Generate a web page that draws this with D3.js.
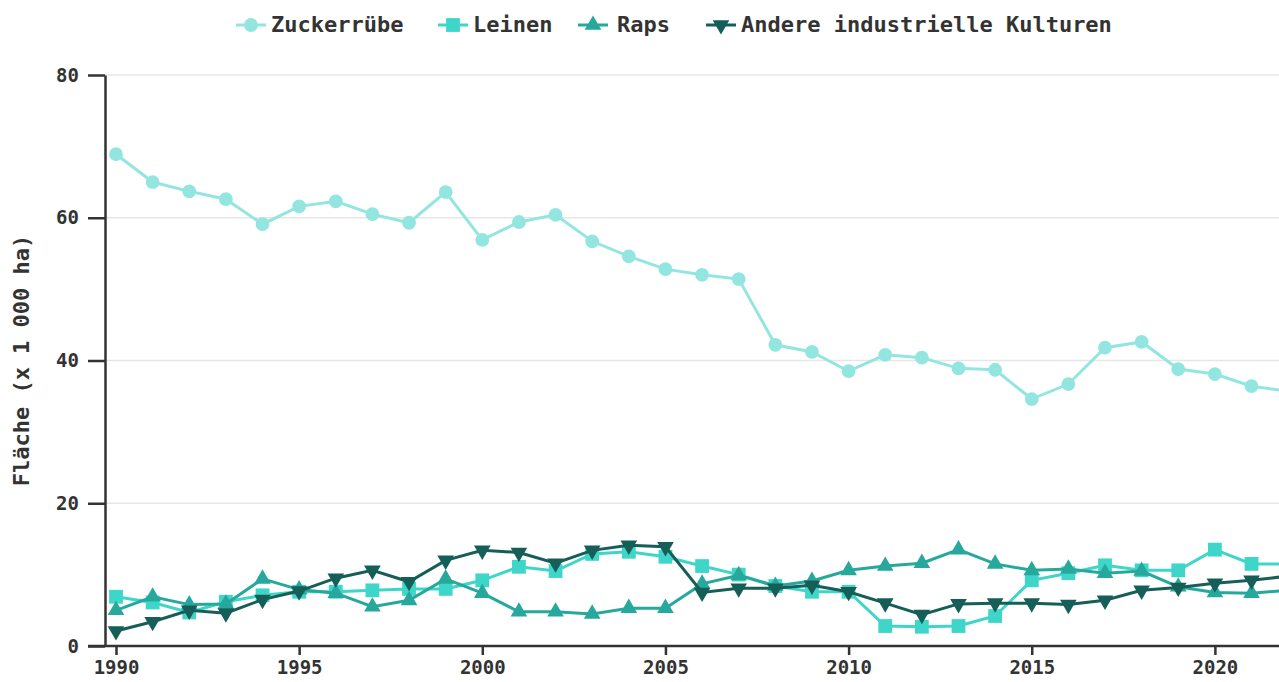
<!DOCTYPE html>
<html>
<head>
<meta charset="utf-8">
<script src="https://cdn.jsdelivr.net/npm/d3@7"></script>
<style>
  body { margin: 0; background: #fff; }
  svg { display: block; font-family: "DejaVu Sans Mono", monospace; }
  .tick text { font-family: "DejaVu Sans Mono", monospace; font-size: 19px; font-weight: bold; fill: #333; }
  .legend-label { font-size: 22px; font-weight: bold; fill: #333; }
  .axis-label { font-size: 22px; font-weight: bold; fill: #333; }
</style>
</head>
<body>
<div id="chart"></div>
<script>
const years = d3.range(1990, 2023);
const seriesNames = ["Zuckerrübe", "Leinen", "Raps", "Andere industrielle Kulturen"];
const zuckerruebe = [68.9, 65.0, 63.7, 62.6, 59.1, 61.6, 62.3, 60.5, 59.3, 63.6, 56.9, 59.4, 60.4, 56.7, 54.6, 52.8, 52.0, 51.4, 42.2, 41.2, 38.5, 40.8, 40.4, 38.9, 38.7, 34.6, 36.7, 41.8, 42.6, 38.8, 38.1, 36.4, 35.7];
const leinen = [6.9, 6.1, 4.7, 6.2, 7.1, 7.6, 7.6, 7.8, 8.0, 8.0, 9.2, 11.1, 10.5, 12.9, 13.2, 12.5, 11.2, 10.0, 8.4, 7.6, 7.6, 2.8, 2.7, 2.8, 4.2, 9.2, 10.2, 11.3, 10.6, 10.6, 13.5, 11.5, 11.5];
const raps = [5.0, 6.9, 5.8, 5.9, 9.4, 7.9, 7.4, 5.5, 6.4, 9.4, 7.4, 4.8, 4.8, 4.5, 5.3, 5.3, 8.7, 9.9, 8.4, 9.1, 10.6, 11.2, 11.6, 13.5, 11.5, 10.6, 10.8, 10.2, 10.5, 8.3, 7.5, 7.4, 7.8];
const andere = [2.1, 3.4, 5.0, 4.6, 6.5, 7.7, 9.5, 10.6, 9.0, 12.0, 13.4, 13.1, 11.6, 13.4, 14.1, 13.9, 7.5, 8.1, 8.1, 8.5, 7.6, 6.0, 4.4, 5.9, 6.0, 6.0, 5.8, 6.4, 7.8, 8.2, 8.8, 9.2, 9.8];
const yTicks = [0, 20, 40, 60, 80];
const xTicks = [1990, 1995, 2000, 2005, 2010, 2015, 2020];

const colors = ["#93e6e0", "#3dd6c8", "#26a99c", "#165e58"];
const symbols = [d3.symbolCircle, d3.symbolSquare, d3.symbolTriangle, d3.symbolTriangle];
const symbolSizes = [150, 190, 120, 120];
const rotations = [0, 0, 0, 180];

const width = 1279, height = 682;

const series = [zuckerruebe, leinen, raps, andere].map((vals, i) => ({
    name: seriesNames[i],
    values: vals.map((v, j) => ({ year: years[j], value: v })),
    color: colors[i],
    symbol: symbols[i],
    size: symbolSizes[i],
    rotate: rotations[i]
}));

const svg = d3.select("#chart")
    .append("svg")
    .attr("width", width)
    .attr("height", height);

const x = d3.scaleLinear()
    .domain([1990, 2022])
    .range([116, 116 + 32 * 36.63]);

const xRangeStart = 105;

const y = d3.scaleLinear()
    .domain([0, 80])
    .range([646, 75]);

// gridlines
svg.append("g")
    .selectAll("line")
    .data(yTicks.filter(d => d > 0))
    .join("line")
    .attr("x1", xRangeStart)
    .attr("x2", width)
    .attr("y1", d => y(d))
    .attr("y2", d => y(d))
    .attr("stroke", "#e6e6e6")
    .attr("stroke-width", 1.5);

// lines + markers
const line = d3.line()
    .x(d => x(d.year))
    .y(d => y(d.value));

series.forEach(s => {
    const g = svg.append("g");
    g.append("path")
        .datum(s.values)
        .attr("d", line)
        .attr("fill", "none")
        .attr("stroke", s.color)
        .attr("stroke-width", 3);
    g.selectAll("path.mark")
        .data(s.values)
        .join("path")
        .attr("class", "mark")
        .attr("d", d3.symbol().type(s.symbol).size(s.size))
        .attr("transform", d => `translate(${x(d.year)}, ${y(d.value)}) rotate(${s.rotate})`)
        .attr("fill", s.color);
});

// axes
const bottomAxis = d3.axisBottom(x)
    .tickValues(xTicks)
    .tickFormat(d3.format("d"))
    .tickSize(9)
    .tickSizeOuter(0)
    .tickPadding(6);
const xAxisG = svg.append("g")
    .attr("transform", `translate(0, ${y(0)})`)
    .call(bottomAxis);
xAxisG.select(".domain").attr("d", `M${xRangeStart - 17},0H${width + 20}`);

const leftAxis = d3.axisLeft(y)
    .tickValues(yTicks)
    .tickSize(17)
    .tickSizeOuter(0)
    .tickPadding(9);
svg.append("g")
    .attr("transform", `translate(${xRangeStart}, 0)`)
    .call(leftAxis);

svg.selectAll(".domain, .tick line")
    .attr("stroke", "#333")
    .attr("stroke-width", 2.5);

svg.append("text")
    .attr("class", "axis-label")
    .attr("text-anchor", "middle")
    .attr("transform", `translate(29, ${(y(0) + y(80)) / 2}) rotate(-90)`)
    .text("Fläche (x 1 000 ha)");

// legend
const legendX = [236, 438, 578, 706];
const legend = svg.append("g").attr("class", "legend");
series.forEach((s, i) => {
    const g = legend.append("g").attr("transform", `translate(${legendX[i]}, 25)`);
    g.append("line")
        .attr("x1", 0).attr("x2", 30)
        .attr("stroke", s.color)
        .attr("stroke-width", 3);
    g.append("path")
        .attr("d", d3.symbol().type(s.symbol).size(s.size))
        .attr("transform", `translate(15, 0) rotate(${s.rotate})`)
        .attr("fill", s.color);
    g.append("text")
        .attr("class", "legend-label")
        .attr("x", i === 2 ? 39 : 35)
        .attr("y", 7)
        .text(s.name);
});
</script>
</body>
</html>
